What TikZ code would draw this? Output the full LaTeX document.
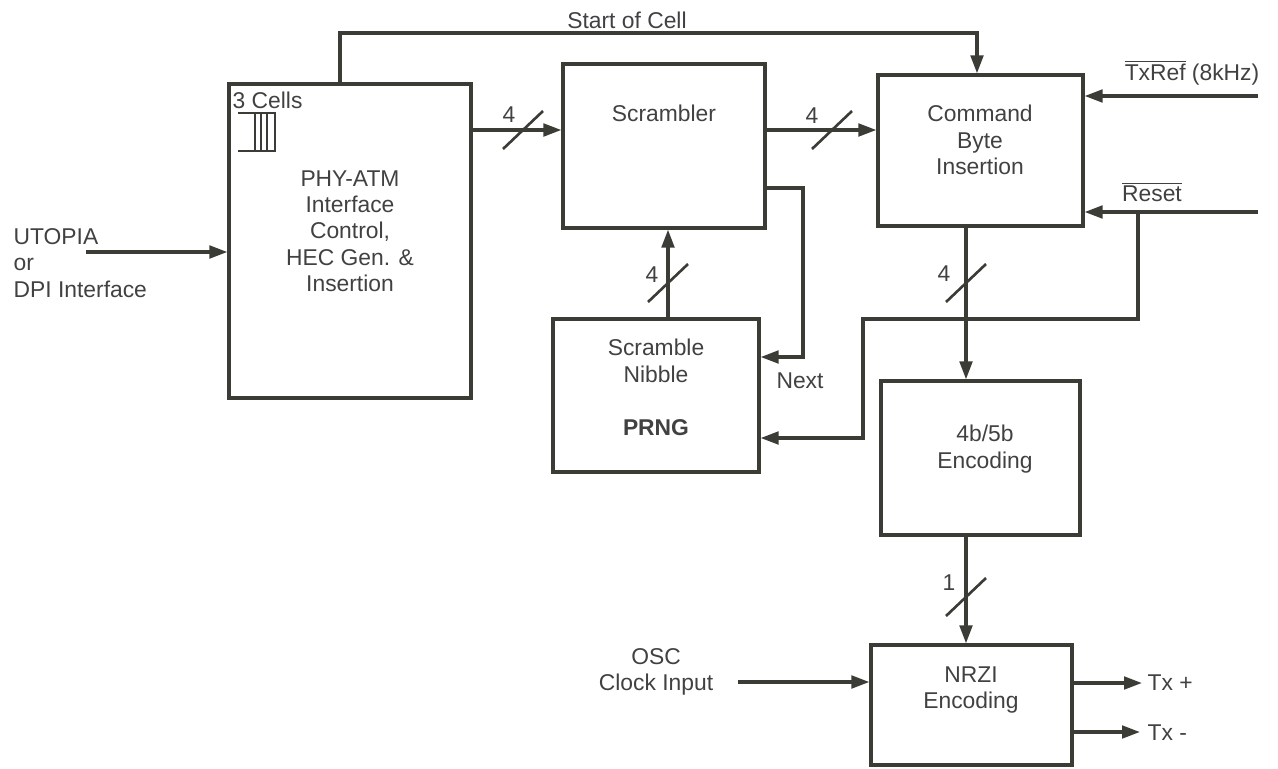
\documentclass[tikz,border=0pt]{standalone}
\usepackage{fontspec}
\setmainfont{Liberation Sans}
\usetikzlibrary{arrows.meta, positioning, calc}
\definecolor{cline}{HTML}{3C3C37}
\definecolor{ctext}{HTML}{414141}
\tikzset{
  every picture/.style={line width=1.9pt},
  box/.style={draw=cline, line width=1.8pt, inner sep=0pt},
  arrow/.style={-{Triangle[length=3.6mm, width=2.5mm]}, draw=cline, line width=1.9pt},
  wire/.style={draw=cline, line width=1.9pt},
  slash/.style={draw=cline, line width=1.5pt},
  txt/.style={text=ctext, font=\fontsize{13}{15}\selectfont, align=center, inner sep=0pt},
  num/.style={txt},
}
\begin{document}
\begin{tikzpicture}[x=0.02cm, y=-0.02cm]
  \useasboundingbox (0,0) rectangle (1278,768);
  % blocks
  \node[box, minimum width=4.84cm, minimum height=6.28cm] (phy) at (350,241) {};
  \node[box, minimum width=4.04cm, minimum height=3.28cm] (scr) at (664,146) {};
  \node[box, minimum width=4.10cm, minimum height=3.02cm] (cmd) at (980.5,150.5) {};
  \node[box, minimum width=4.12cm, minimum height=3.06cm] (prng) at (656,395.5) {};
  \node[box, minimum width=3.98cm, minimum height=3.08cm] (enc) at (980.5,458) {};
  \node[box, minimum width=4.02cm, minimum height=2.40cm] (nrzi) at (971.5,705) {};
  % block texts
  \node[txt] (phytext) at (350,231) {PHY-ATM\\Interface\\Control,\\HEC Gen. \&\\Insertion};
  \node[txt] (scrtext) at (664,113) {Scrambler};
  \node[txt] (cmdtext) at (980,140) {Command\\Byte\\Insertion};
  \node[txt] (prngtext) at (656,361) {Scramble\\Nibble};
  \node[txt, font=\fontsize{13}{15}\selectfont\bfseries] (prngname) at (656,428) {PRNG};
  \node[txt] (enctext) at (985,449) {4b/5b\\Encoding};
  \node[txt] (nrzitext) at (971,690) {NRZI\\Encoding};
  % cell buffer
  \node[txt, anchor=west] (cells) at (231,100) {3 Cells};
  \draw[cline, line width=1.2pt] (238,113) -- (275,113) -- (275,151) -- (238,151);
  \foreach \x in {255,261,267} \draw[cline, line width=1.2pt] (\x,113) -- (\x,151);
  % outside signals
  \node[txt, align=left, anchor=west] (utopia) at (12,263) {UTOPIA\\or\\DPI Interface};
  \node[txt] (osc) at (656,672) {OSC\\Clock Input};
  \node[txt] (txref) at (1192,73) {$\overline{\hbox{TxRef}}$ (8kHz)};
  \node[txt] (reset) at (1152,192) {$\overline{\hbox{Reset}}$};
  \node[txt] (soc) at (627,20) {Start of Cell};
  \node[txt] (next) at (800,381) {Next};
  \coordinate (utin) at (86,252);
  \coordinate (bus1) at (523,130);
  \coordinate (bus2) at (832,130);
  \coordinate (bus3) at (668,283);
  \coordinate (bus4) at (966,283);
  \coordinate (bus5) at (966,597);
  \coordinate (soc1) at (340,33);
  \coordinate (soc2) at (977,33);
  \coordinate (nx1) at (803,188);
  \coordinate (nx2) at (803,357);
  \coordinate (txin) at (1258,96);
  \coordinate (rsin) at (1258,212);
  \coordinate (rs0) at (1138,212);
  \coordinate (rs1) at (1138,319);
  \coordinate (rs2) at (863,319);
  \coordinate (rs3) at (863,438);
  \coordinate (oscin) at (738,682);
  \coordinate (txp) at (1142,683);
  \coordinate (txm) at (1140,732);
  \node[txt, anchor=west] (txplus) at (1146,683) {Tx +};
  \node[txt, anchor=west] (txminus) at (1146,733) {Tx -};
  % connectors
  \draw[arrow] (utin) -- (phy.west |- utin);
  \draw[arrow] (phy.east |- bus1) -- (scr.west |- bus1);
  \draw[arrow] (scr.east |- bus2) -- (cmd.west |- bus2);
  \draw[arrow] (prng.north -| bus3) -- (scr.south -| bus3);
  \draw[arrow] (cmd.south -| bus4) -- (enc.north -| bus4);
  \draw[arrow] (enc.south -| bus5) -- (nrzi.north -| bus5);
  \draw[arrow] (phy.north -| soc1) -- (soc1) -- (soc2) -- (cmd.north -| soc2);
  \draw[arrow] (scr.east |- nx1) -- (nx1) -- (nx2) -- (prng.east |- nx2);
  \draw[arrow] (txin) -- (cmd.east |- txin);
  \draw[arrow] (rsin) -- (cmd.east |- rsin);
  \draw[arrow] (rs0) -- (rs1) -- (rs2) -- (rs3) -- (prng.east |- rs3);
  \draw[arrow] (oscin) -- (nrzi.west |- oscin);
  \draw[arrow] (nrzi.east |- txp) -- (txp);
  \draw[arrow] (nrzi.east |- txm) -- (txm);
  % bus widths
  \foreach \b/\lx/\ly/\n [count=\i] in {bus1/509/115/4, bus2/812/116/4, bus3/652/275/4, bus4/944/274/4, bus5/949/583/1} {
    \draw[slash] ($(\b)+(-20,19)$) -- ($(\b)+(20,-19)$);
    \node[num] (w\i) at (\lx,\ly) {\n};
  }
\end{tikzpicture}
\end{document}
